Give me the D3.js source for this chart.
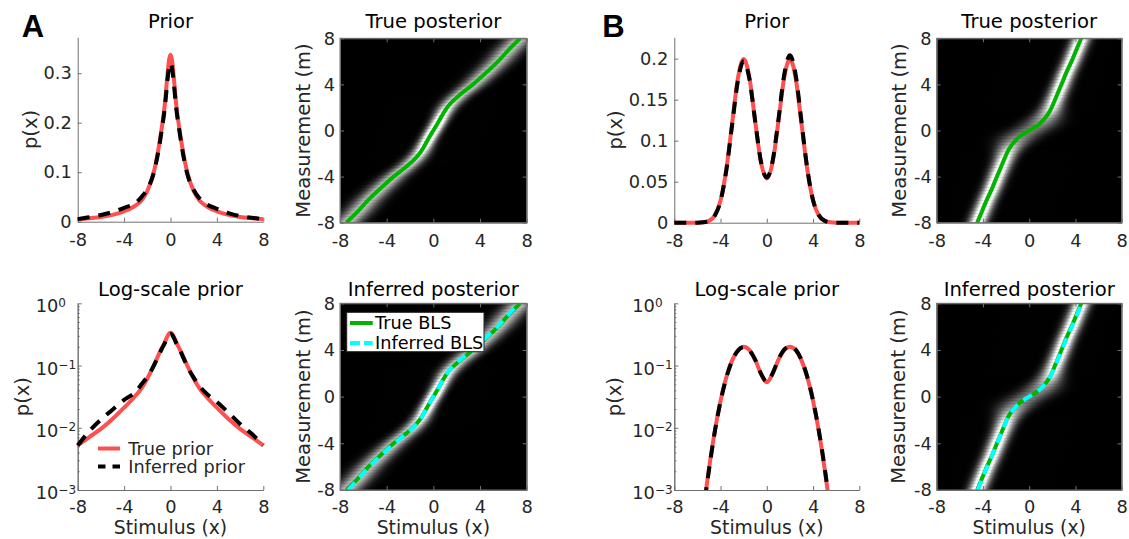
<!DOCTYPE html>
<html><head><meta charset="utf-8">
<script src="https://d3js.org/d3.v7.min.js"></script>
<style>
body{margin:0;background:#fff;}
svg{display:block;font-family:'DejaVu Sans',sans-serif;}
</style></head><body>
<svg id="fig" width="1129" height="539"></svg>
<script>
// ---------- values ----------
var xTicks=[-8,-4,0,4,8], xTickLabels=['-8','-4','0','4','8'];
var mTicks=[-8,-4,0,4,8], mTickLabels=['-8','-4','0','4','8'];
var pTicksA=[0,0.1,0.2,0.3], pTickLabelsA=['0','0.1','0.2','0.3'];
var pTicksB=[0,0.05,0.1,0.15,0.2], pTickLabelsB=['0','0.05','0.1','0.15','0.2'];
var logTicks=[1e-3,1e-2,1e-1,1], logTickExp=['\u22123','\u22122','\u22121','0'];

// panel A prior (heavy tailed)
var xA=[-8,-7,-6,-5,-4,-3,-2.5,-2,-1.5,-1.25,-1,-0.75,-0.5,-0.25,-0.125,0,0.125,0.25,0.5,0.75,1,1.25,1.5,2,2.5,3,4,5,6,7,8];
var trueA=[0.0052,0.0071,0.0096,0.0138,0.021,0.033,0.043,0.062,0.095,0.12,0.152,0.19,0.235,0.3,0.327,0.337,0.327,0.3,0.235,0.19,0.152,0.12,0.095,0.062,0.043,0.033,0.021,0.0138,0.0096,0.0071,0.0052];
var infA=[0.0052,0.0088,0.0135,0.0195,0.028,0.038,0.05,0.066,0.094,0.118,0.148,0.186,0.228,0.288,0.312,0.32,0.312,0.288,0.228,0.186,0.148,0.116,0.092,0.064,0.047,0.037,0.026,0.0175,0.0115,0.008,0.0052];

// panel B prior (bimodal)
var xB=[-8,-7.5,-7,-6.5,-6,-5.5,-5,-4.5,-4,-3.5,-3,-2.5,-2,-1.5,-1,-0.5,0,0.5,1,1.5,2,2.5,3,3.5,4,4.5,5,5.5,6,6.5,7,7.5,8];
var trueB=[3e-9,5e-8,7e-7,8e-6,6.7e-5,4.4e-4,0.0022,0.0088,0.027,0.065,0.121,0.176,0.1995,0.1765,0.123,0.0735,0.054,0.0735,0.123,0.1765,0.1995,0.176,0.121,0.065,0.027,0.0088,0.0022,4.4e-4,6.7e-5,8e-6,7e-7,5e-8,3e-9];
var infB=[3e-9,5e-8,7e-7,8e-6,6.5e-5,4.3e-4,0.0021,0.0086,0.0265,0.064,0.119,0.173,0.197,0.175,0.123,0.074,0.055,0.075,0.125,0.18,0.204,0.18,0.123,0.066,0.0275,0.009,0.0023,4.5e-4,7e-5,8e-6,7e-7,5e-8,3e-9];

// BLS estimates: stimulus estimate for each measurement m
var blsM=[-8,-7,-6,-5,-4,-3,-2.5,-2,-1.5,-1,-0.5,0,0.5,1,1.5,2,2.5,3,4,5,6,7,8];
var blsTrueA=[-7.45,-6.45,-5.55,-4.5,-3.4,-2.15,-1.62,-1.18,-0.86,-0.58,-0.3,0,0.3,0.58,0.86,1.18,1.62,2.15,3.4,4.5,5.55,6.45,7.45];
var blsInfA=[-7.3,-6.4,-5.5,-4.45,-3.35,-2.1,-1.6,-1.17,-0.85,-0.57,-0.29,0,0.29,0.57,0.85,1.17,1.6,2.1,3.35,4.45,5.5,6.4,7.35];
var blsTrueB=[-4.5,-4.08,-3.66,-3.2,-2.79,-2.37,-2.16,-1.95,-1.68,-1.3,-0.8,0,0.8,1.3,1.68,1.95,2.16,2.37,2.79,3.2,3.66,4.08,4.5];
var blsInfB=[-4.45,-4.05,-3.64,-3.19,-2.78,-2.36,-2.15,-1.94,-1.67,-1.29,-0.79,0,0.8,1.31,1.69,1.96,2.18,2.4,2.83,3.24,3.7,4.12,4.55];

// posterior image: spread and brightness of the ridge for each m
var ridgeWidthA=[0.8,0.8,0.78,0.75,0.7,0.64,0.6,0.55,0.5,0.47,0.45,0.45,0.45,0.47,0.5,0.55,0.6,0.64,0.7,0.75,0.78,0.8,0.8];
var ridgePeakA=[0.78,0.78,0.78,0.8,0.82,0.88,0.95,1.05,1.2,1.35,1.45,1.5,1.45,1.35,1.2,1.05,0.95,0.88,0.82,0.8,0.78,0.78,0.78];
var ridgeWidthB=[0.52,0.52,0.52,0.52,0.53,0.55,0.58,0.64,0.75,0.92,1.05,1.12,1.05,0.92,0.75,0.64,0.58,0.55,0.53,0.52,0.52,0.52,0.52];
var ridgePeakB=[1.3,1.3,1.3,1.3,1.28,1.22,1.14,1.02,0.85,0.66,0.54,0.5,0.54,0.66,0.85,1.02,1.14,1.22,1.28,1.3,1.3,1.3,1.3];

// ---------- layout / style ----------
var L={
  priorA:{x0:77.7,x1:263.3,y0:37.3,y1:221.7},
  postA:{x0:340,x1:526.7,y0:38.3,y1:222.7},
  logA:{x0:77.7,x1:263.3,y0:303.3,y1:490},
  infA:{x0:340,x1:526.7,y0:303.3,y1:490},
  priorB:{x0:674.3,x1:859.3,y0:37.3,y1:222.7},
  postB:{x0:936.7,x1:1121.7,y0:38.3,y1:222.7},
  logB:{x0:674.3,x1:859.3,y0:303.3,y1:490},
  infB:{x0:936.7,x1:1121.7,y0:303.3,y1:490}
};
var tickFont=17.8, labFont=19.5, titleFont=19.6;
var axisCol='#707070', textCol='#262626';
var red='#ff4f4f', green='#00b400', cyan='#00ffff';
var svg=d3.select('#fig'), defs=svg.append('defs');
var clipN=0;

function clip(p,pad){
  var id='clip'+(clipN++);
  defs.append('clipPath').attr('id',id).append('rect')
    .attr('x',p.x0-pad).attr('y',p.y0-pad).attr('width',p.x1-p.x0+2*pad).attr('height',p.y1-p.y0+2*pad);
  return 'url(#'+id+')';
}
function styleAxis(g){
  g.attr('font-family',null).attr('font-size',null);
  g.select('.domain').attr('stroke',axisCol).attr('stroke-width',1);
  g.selectAll('.tick line').attr('stroke',axisCol).attr('stroke-width',1);
  g.selectAll('.tick text').attr('fill',textCol).style('font-size',tickFont+'px');
}
function xAxis(p,x){
  var pad=p.y0<100?12.1:10;
  var g=svg.append('g').attr('transform','translate(0,'+p.y1+')')
    .call(d3.axisBottom(x).tickValues(xTicks).tickFormat(function(d,i){return xTickLabels[i];})
      .tickSize(-4).tickSizeOuter(0).tickPadding(pad));
  styleAxis(g);
}
function title(p,t,yb){
  svg.append('text').attr('x',(p.x0+p.x1)/2).attr('y',yb).attr('text-anchor','middle')
    .style('font-size',titleFont+'px').attr('fill','#000').text(t);
}
function yLabel(p,t,bx){
  svg.append('text').attr('transform','translate('+bx+','+((p.y0+p.y1)/2)+') rotate(-90)')
    .attr('text-anchor','middle').style('font-size',labFont+'px').attr('fill',textCol).text(t);
}
function xLabel(p){
  svg.append('text').attr('x',(p.x0+p.x1)/2).attr('y',534.4).attr('text-anchor','middle')
    .style('font-size','18.8px').attr('fill',textCol).text('Stimulus (x)');
}
function priorCurves(p,x,y,xs,tv,iv,cl){
  var line=d3.line().curve(d3.curveMonotoneX).x(function(d){return x(d[0]);}).y(function(d){return y(d[1]);});
  var g=svg.append('g').attr('clip-path',cl);
  g.append('path').datum(d3.zip(xs,tv)).attr('d',line).attr('fill','none')
    .attr('stroke',red).attr('stroke-width',4);
  g.append('path').datum(d3.zip(xs,iv)).attr('d',line).attr('fill','none')
    .attr('stroke','#000').attr('stroke-width',4).attr('stroke-dasharray','12,9');
}
function linPrior(p,xs,tv,iv,yMax,ticks,labels,lbx){
  var x=d3.scaleLinear().domain([-8,8]).range([p.x0,p.x1]);
  var y=d3.scaleLinear().domain([0,yMax]).range([p.y1,p.y0]);
  xAxis(p,x);
  var g=svg.append('g').attr('transform','translate('+p.x0+',0)')
    .call(d3.axisLeft(y).tickValues(ticks).tickFormat(function(d,i){return labels[i];})
      .tickSize(-4).tickSizeOuter(0).tickPadding(6));
  styleAxis(g);
  priorCurves(p,x,y,xs,tv,iv,clip(p,3));
  title(p,'Prior',28.3);
  yLabel(p,'p(x)',lbx);
}
function logPrior(p,xs,tv,iv,lbx){
  var x=d3.scaleLinear().domain([-8,8]).range([p.x0,p.x1]);
  var y=d3.scaleLog().domain([1e-3,1]).range([p.y1,p.y0]);
  xAxis(p,x);
  var minor=[];
  [1e-3,1e-2,1e-1].forEach(function(b){for(var k=2;k<10;k++)minor.push(b*k);});
  var gm=svg.append('g').attr('transform','translate('+p.x0+',0)')
    .call(d3.axisLeft(y).tickValues(minor).tickFormat('').tickSize(-2).tickSizeOuter(0));
  styleAxis(gm);
  var g=svg.append('g').attr('transform','translate('+p.x0+',0)')
    .call(d3.axisLeft(y).tickValues(logTicks).tickFormat('').tickSize(-4).tickSizeOuter(0));
  styleAxis(g);
  logTicks.forEach(function(v,i){
    var t=svg.append('text').attr('x',p.x0-42).attr('y',y(v)+9).attr('fill',textCol)
      .style('font-size',tickFont+'px');
    t.append('tspan').text('10');
    t.append('tspan').attr('dy',-5.5).style('font-size','12px').text(logTickExp[i]);
  });
  var cl='clip'+(clipN++);
  defs.append('clipPath').attr('id',cl).append('rect')
    .attr('x',p.x0-3).attr('y',p.y0-3).attr('width',p.x1-p.x0+6).attr('height',p.y1-p.y0+3);
  priorCurves(p,x,y,xs,tv,iv,'url(#'+cl+')');
  title(p,'Log-scale prior',296);
  yLabel(p,'p(x)',lbx);
  xLabel(p);
}
function postPanel(p,id,blsT,blsI,rw,rp,ttl,showInf){
  var x=d3.scaleLinear().domain([-8,8]).range([p.x0,p.x1]);
  var y=d3.scaleLinear().domain([-8,8]).range([p.y1,p.y0]);
  var cen=d3.scaleLinear().domain(blsM).range(blsT);
  var wid=d3.scaleLinear().domain(blsM).range(rw);
  var pk=d3.scaleLinear().domain(blsM).range(rp);
  var gray=d3.scaleLinear().domain([0,1]).range(['#000','#fff']).clamp(true);
  var cl=clip(p,0);
  var g=svg.append('g').attr('clip-path',cl);
  g.append('rect').attr('x',p.x0).attr('y',p.y0).attr('width',p.x1-p.x0).attr('height',p.y1-p.y0).attr('fill','#000');
  var rows=d3.range(-8,8.0001,0.125);
  rows.forEach(function(m,i){
    var c=cen(m), s=wid(m), a=pk(m);
    var xs=[-8].concat(d3.range(-3.5,3.51,0.25).map(function(k){return c+k*s;})
      .filter(function(v){return v>-8&&v<8;})).concat([8]);
    var gr=defs.append('linearGradient').attr('id',id+'r'+i).attr('gradientUnits','userSpaceOnUse')
      .attr('x1',x(-8)).attr('x2',x(8)).attr('y1',0).attr('y2',0);
    xs.forEach(function(v){
      gr.append('stop').attr('offset',(v+8)/16)
        .attr('stop-color',gray(a*Math.exp(-0.5*Math.pow((v-c)/s,2))));
    });
    g.append('rect').attr('x',p.x0).attr('width',p.x1-p.x0)
      .attr('y',y(m+0.0625)).attr('height',y(m-0.0625)-y(m+0.0625)+0.4)
      .attr('fill','url(#'+id+'r'+i+')');
  });
  var line=d3.line().curve(d3.curveMonotoneY).x(function(d){return x(d[0]);}).y(function(d){return y(d[1]);});
  g.append('path').datum(d3.zip(blsT,blsM)).attr('d',line).attr('fill','none')
    .attr('stroke',green).attr('stroke-width',4);
  if(showInf){
    g.append('path').datum(d3.zip(blsI,blsM)).attr('d',line).attr('fill','none')
      .attr('stroke',cyan).attr('stroke-width',4).attr('stroke-dasharray','10,7');
  }
  // box and ticks on all sides
  svg.append('rect').attr('x',p.x0).attr('y',p.y0).attr('width',p.x1-p.x0).attr('height',p.y1-p.y0)
    .attr('fill','none').attr('stroke',axisCol).attr('stroke-width',1);
  xAxis(p,x);
  var gl=svg.append('g').attr('transform','translate('+p.x0+',0)')
    .call(d3.axisLeft(y).tickValues(mTicks).tickFormat(function(d,i){return mTickLabels[i];})
      .tickSize(-4).tickSizeOuter(0).tickPadding(5));
  styleAxis(gl);
  var gt=svg.append('g').attr('transform','translate(0,'+p.y0+')')
    .call(d3.axisTop(x).tickValues(xTicks).tickFormat('').tickSize(-4).tickSizeOuter(0));
  styleAxis(gt);
  var gr2=svg.append('g').attr('transform','translate('+p.x1+',0)')
    .call(d3.axisRight(y).tickValues(mTicks).tickFormat('').tickSize(-4).tickSizeOuter(0));
  styleAxis(gr2);
  title(p,ttl,p.y0<100?28.3:296);
}

// ---------- panels ----------
linPrior(L.priorA,xA,trueA,infA,0.3725,pTicksA,pTickLabelsA,37);
linPrior(L.priorB,xB,trueB,infB,0.226,pTicksB,pTickLabelsB,622);
logPrior(L.logA,xA,trueA,infA,29);
logPrior(L.logB,xB,trueB,infB,621);

postPanel(L.postA,'pa',blsTrueA,blsInfA,ridgeWidthA,ridgePeakA,'True posterior',false);
postPanel(L.infA,'ia',blsTrueA,blsInfA,ridgeWidthA,ridgePeakA,'Inferred posterior',true);
postPanel(L.postB,'pb',blsTrueB,blsInfB,ridgeWidthB,ridgePeakB,'True posterior',false);
postPanel(L.infB,'ib',blsTrueB,blsInfB,ridgeWidthB,ridgePeakB,'Inferred posterior',true);
yLabel(L.postA,'Measurement (m)',310);
yLabel(L.infA,'Measurement (m)',309.5);
yLabel(L.postB,'Measurement (m)',905.5);
yLabel(L.infB,'Measurement (m)',905);
xLabel(L.infA); xLabel(L.infB);

// legends
var lg=svg.append('g').style('font-size','17.7px').attr('fill',textCol);
lg.append('line').attr('x1',98).attr('x2',120).attr('y1',448.5).attr('y2',448.5).attr('stroke',red).attr('stroke-width',4);
lg.append('text').attr('x',128.3).attr('y',454.6).text('True prior');
lg.append('line').attr('x1',98).attr('x2',120).attr('y1',466.5).attr('y2',466.5).attr('stroke','#000').attr('stroke-width',4).attr('stroke-dasharray','7.5,7');
lg.append('text').attr('x',128.3).attr('y',472.5).text('Inferred prior');

var lb=svg.append('g').style('font-size','17.7px').attr('fill','#000');
lb.append('rect').attr('x',346.7).attr('y',312.3).attr('width',137.3).attr('height',39.4).attr('fill','#fff').attr('stroke','#222').attr('stroke-width',1);
lb.append('line').attr('x1',350).attr('x2',372.7).attr('y1',323).attr('y2',323).attr('stroke',green).attr('stroke-width',4);
lb.append('text').attr('x',375).attr('y',329.3).text('True BLS');
lb.append('line').attr('x1',350).attr('x2',372.7).attr('y1',343).attr('y2',343).attr('stroke',cyan).attr('stroke-width',4).attr('stroke-dasharray','10,4');
lb.append('text').attr('x',375).attr('y',349.3).text('Inferred BLS');

// panel letters
svg.append('text').attr('x',21.7).attr('y',37.3).style('font-family','"Liberation Sans",Arial,sans-serif')
  .style('font-weight','bold').style('font-size','31px').text('A');
svg.append('text').attr('x',602.3).attr('y',37.3).style('font-family','"Liberation Sans",Arial,sans-serif')
  .style('font-weight','bold').style('font-size','31px').text('B');
</script>
</body></html>
